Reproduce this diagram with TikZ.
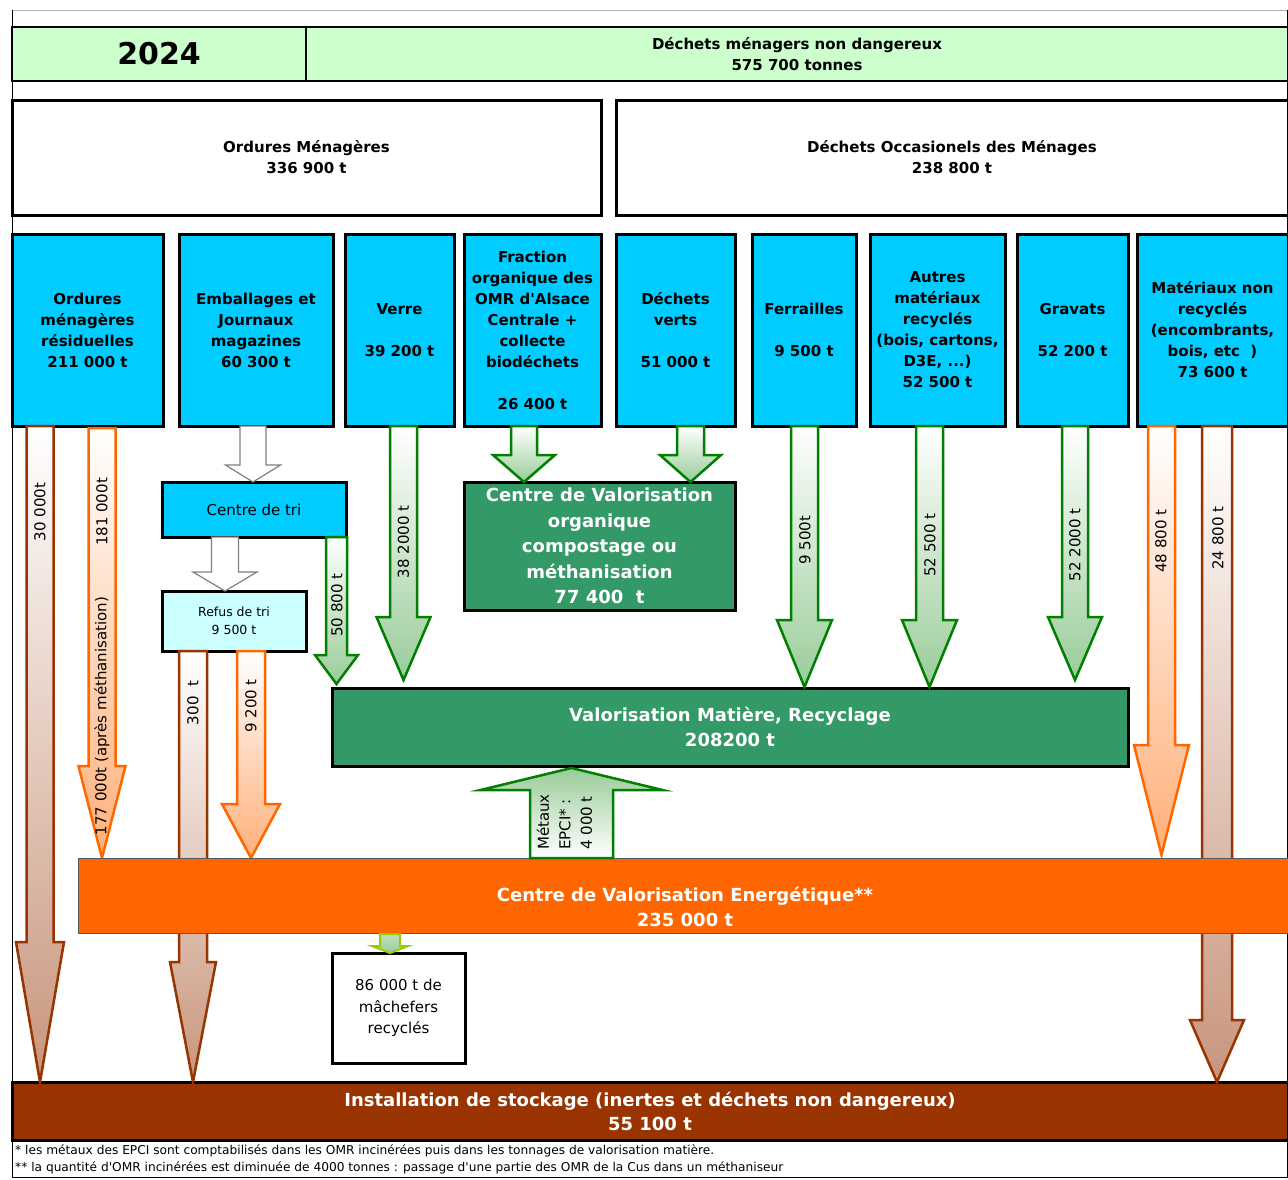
\documentclass[tikz,border=0pt]{standalone}
\usepackage{fontspec}
\setmainfont{DejaVu Sans}[Ligatures=TeXOff]
\usetikzlibrary{calc}
\definecolor{srccyan}{HTML}{00CCFF}
\definecolor{bandgreen}{HTML}{CCFFCC}
\definecolor{refuscyan}{HTML}{CCFFFF}
\definecolor{darkgreen}{HTML}{339966}
\definecolor{orangeE}{HTML}{FF6600}
\definecolor{brownS}{HTML}{993300}
\definecolor{arrgreen}{HTML}{008000}
\definecolor{greenfill}{HTML}{99CC99}
\definecolor{orangefill}{HTML}{FFB07A}
\definecolor{brownfill}{HTML}{C8957C}
\definecolor{limegreen}{HTML}{99CC00}
\newcommand\fsz[2]{\fontsize{#1pt}{#2pt}\selectfont}
% downward block arrow: style, start point, end point (y used), half body, half head, head length
\newcommand\dnarrow[6]{\path[#1] let \p1=(#2), \p2=(#3) in
  (\x1-#4pt,\y1) -- (\x1+#4pt,\y1) -- (\x1+#4pt,\y2+#6pt) -- (\x1+#5pt,\y2+#6pt)
  -- (\x1,\y2) -- (\x1-#5pt,\y2+#6pt) -- (\x1-#4pt,\y2+#6pt) -- cycle;}
\newcommand\uparrowblk[6]{\path[#1] let \p1=(#2), \p2=(#3) in
  (\x1-#4pt,\y1) -- (\x1+#4pt,\y1) -- (\x1+#4pt,\y2-#6pt) -- (\x1+#5pt,\y2-#6pt)
  -- (\x1,\y2) -- (\x1-#5pt,\y2-#6pt) -- (\x1-#4pt,\y2-#6pt) -- cycle;}
\tikzset{
  base/.style={inner sep=0pt, outer sep=0pt, anchor=north west, align=center},
  srcbox/.style={base, draw=black, line width=3pt, fill=srccyan, font=\bfseries\fsz{15}{21}},
  topbox/.style={base, draw=black, line width=3pt, fill=white, font=\bfseries\fsz{15}{21}},
  bandcell/.style={base, draw=black, line width=1.2pt, fill=bandgreen},
  greenbox/.style={base, draw=black, line width=3pt, fill=darkgreen, text=white, font=\bfseries\fsz{18}{25.5}},
  grarrow/.style={draw=arrgreen, line width=2.5pt, top color=white, bottom color=greenfill, line join=miter},
  orarrow/.style={draw=orangeE, line width=2.5pt, top color=white, bottom color=orangefill},
  brarrow/.style={draw=brownS, line width=2.5pt, top color=white, bottom color=brownfill},
  wharrow/.style={draw=gray, line width=1.2pt, fill=white},
  rlab/.style={rotate=90, font=\fsz{15}{18}, inner sep=0pt},
  foot/.style={anchor=west, inner sep=0pt, font=\fsz{12.2}{14}}
}
\begin{document}
\begin{tikzpicture}[x=1pt,y=-1pt]
\useasboundingbox (0,0) rectangle (1288,1179);
\fill[white] (0,0) rectangle (1288,1179);
% frame
\draw[gray!60, line width=0.8pt] (12,10) -- (1288,10);
\draw[black, line width=1pt] (12,10) -- (12,1177) -- (1287,1177) -- (1287,10);
% header band
\node[bandcell, minimum width=294pt, minimum height=54pt, font=\bfseries\fsz{30}{34}] (year) at (12,27) {2024};
\node[bandcell, minimum width=982pt, minimum height=54pt, font=\bfseries\fsz{15}{21}] (total) at (306,27) {Déchets ménagers non dangereux\\575 700 tonnes};
% top category boxes
\node[topbox, minimum width=589pt, minimum height=115pt] (om) at (12,100) {Ordures Ménagères\\336 900 t};
\node[topbox, minimum width=672pt, minimum height=115pt] (dom) at (616,100) {Déchets Occasionels des Ménages\\238 800 t};
% source boxes
\node[srcbox, minimum width=151pt, minimum height=192pt] (omr) at (12,234) {Ordures\\ménagères\\résiduelles\\211 000 t};
\node[srcbox, minimum width=154pt, minimum height=192pt] (emb) at (179,234) {Emballages et\\Journaux\\magazines\\60 300 t};
\node[srcbox, minimum width=109pt, minimum height=192pt] (verre) at (345,234) {Verre\\~\\39 200 t};
\node[srcbox, minimum width=137pt, minimum height=192pt] (frac) at (464,234) {Fraction\\organique des\\OMR d'Alsace\\Centrale +\\collecte\\biodéchets\\~\\26 400 t};
\node[srcbox, minimum width=119pt, minimum height=192pt] (verts) at (616,234) {Déchets\\verts\\~\\51 000 t};
\node[srcbox, minimum width=104pt, minimum height=192pt] (ferr) at (752,234) {Ferrailles\\~\\9 500 t};
\node[srcbox, minimum width=135pt, minimum height=192pt] (autres) at (870,234) {Autres\\matériaux\\recyclés\\(bois, cartons,\\D3E, ...)\\52 500 t};
\node[srcbox, minimum width=111pt, minimum height=192pt] (grav) at (1017,234) {Gravats\\~\\52 200 t};
\node[srcbox, minimum width=151pt, minimum height=192pt] (mat) at (1137,234) {Matériaux non\\recyclés\\(encombrants,\\bois, etc\ \ )\\73 600 t};
% intermediate boxes
\node[base, draw=black, line width=3pt, fill=srccyan, minimum width=184pt, minimum height=55pt, font=\fsz{15}{18}] (tri) at (162,482) {Centre de tri};
\node[base, draw=black, line width=3pt, fill=refuscyan, minimum width=144pt, minimum height=60pt, font=\fsz{12.5}{18}] (refus) at (162,591) {Refus de tri\\9 500 t};
\node[greenbox, minimum width=271pt, minimum height=128pt] (cvo) at (464,482) {Centre de Valorisation\\organique\\compostage ou\\méthanisation\\77 400\ \ t};
\node[greenbox, minimum width=796pt, minimum height=78pt] (vm) at (332,688) {Valorisation Matière, Recyclage\\208200 t};
\node[base, draw=black, line width=3pt, fill=white, minimum width=133pt, minimum height=110pt, font=\fsz{15}{21.5}] (mach) at (332,953) {86 000 t de\\mâchefers\\recyclés};
\node[base, draw=black, line width=3pt, fill=brownS, text=white, minimum width=1276pt, minimum height=58pt, font=\bfseries\fsz{18}{24}] (stock) at (12,1082) {Installation de stockage (inertes et déchets non dangereux)\\55 100 t};
% energy recovery bar position (drawn later on top)
\coordinate (cvetop) at (78,858);
% arrows
\dnarrow{brarrow}{$(omr.south west)+(28,0)$}{stock.north}{13.5}{24}{140}
\dnarrow{orarrow}{$(omr.south west)+(90,2)$}{cvetop}{13.5}{23.5}{92}
\dnarrow{wharrow}{$(emb.south west)+(74,0)$}{tri.north}{13}{27.5}{17}
\dnarrow{wharrow}{$(tri.south west)+(63,0)$}{refus.north}{13.5}{32}{19}
\dnarrow{brarrow}{$(refus.south west)+(31,0)$}{stock.north}{14}{23}{120}
\dnarrow{orarrow}{$(refus.south west)+(89,0)$}{cvetop}{14}{29}{54}
\dnarrow{grarrow}{$(tri.south west)+(174.5,0)$}{$(vm.north)+(0,-4)$}{10.5}{21.5}{29}
\dnarrow{grarrow}{$(verre.south west)+(58.5,0)$}{$(vm.north)+(0,-8)$}{13.5}{27}{63}
\dnarrow{grarrow}{$(frac.south west)+(60,0)$}{cvo.north}{13}{31}{27}
\dnarrow{grarrow}{$(verts.south west)+(74.5,0)$}{cvo.north}{13.5}{30.5}{27}
\dnarrow{grarrow}{$(ferr.south west)+(52.5,0)$}{$(vm.north)+(0,-1)$}{13.5}{27.5}{67}
\dnarrow{grarrow}{$(autres.south west)+(59.5,0)$}{$(vm.north)+(0,-1)$}{13.5}{27.5}{67}
\dnarrow{grarrow}{$(grav.south west)+(58,0)$}{$(vm.north)+(0,-8)$}{13}{27}{63}
\dnarrow{orarrow}{$(mat.south west)+(24.5,0)$}{$(cvetop)+(0,-3)$}{13.5}{27.5}{110}
\dnarrow{brarrow}{$(mat.south west)+(80,0)$}{stock.north}{15}{27}{62}
% rotated labels
\node[rlab] (l30) at (40,512) {30 000t};
\node[rlab] (l181) at (102,512) {181 000t};
\node[rlab] (l177) at (102,716) {177 000t (après méthanisation)};
\node[rlab] (l300) at (193,703) {300\ \ t};
\node[rlab] (l9200) at (251,706) {9 200 t};
\node[rlab] (l508) at (337,605) {50 800 t};
\node[rlab] (l382) at (403.5,542) {38 2000 t};
\node[rlab] (l9500) at (805,540) {9 500t};
\node[rlab] (l525) at (930,545) {52 500 t};
\node[rlab] (l522) at (1075,545) {52 2000 t};
\node[rlab] (l488) at (1161,541) {48 800 t};
\node[rlab] (l248) at (1218,538) {24 800 t};
% energy recovery bar (on top of crossing arrows)
\node[base, draw=gray!70!black, line width=1pt, fill=orangeE, minimum width=1210pt, minimum height=75pt] (cve) at (cvetop) {};
\node[inner sep=0pt, align=center, text=white, font=\bfseries\fsz{18}{25}] (cvetext) at ($(cve.center)+(2,11)$) {Centre de Valorisation Energétique**\\235 000 t};
% metals arrow up
\uparrowblk{draw=arrgreen, line width=2.5pt, top color=greenfill, bottom color=white}{$(cve.north west)+(493.5,0)$}{$(vm.south)+(0,2)$}{41.5}{91}{22}
\node[rlab, anchor=west, align=left, font=\fsz{15}{21.5}] (lmet) at (564.5,850) {Métaux\\EPCI* :\\4 000 t};
% bottom ash arrow
\dnarrow{draw=limegreen, line width=2pt, top color=greenfill!60, bottom color=greenfill}{$(cve.south west)+(312,1)$}{mach.north}{10}{18}{7}
% footnotes
\node[foot] (f1) at (15,1151) {* les métaux des EPCI sont comptabilisés dans les OMR incinérées puis dans les tonnages de valorisation matière.};
\node[foot] (f2) at (15,1168) {** la quantité d'OMR incinérées est diminuée de 4000 tonnes : passage d'une partie des OMR de la Cus dans un méthaniseur};
\end{tikzpicture}
\end{document}
